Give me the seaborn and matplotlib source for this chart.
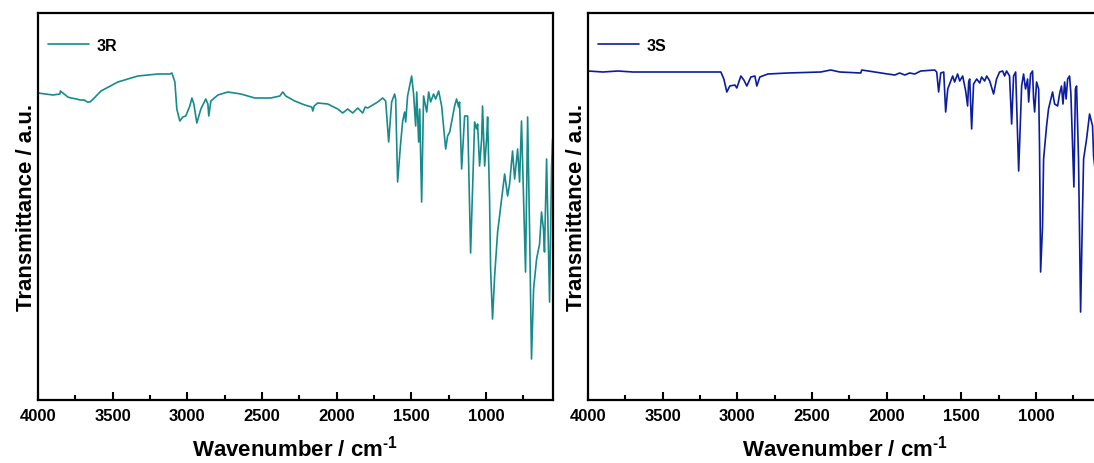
import matplotlib
matplotlib.use("Agg")
import matplotlib.pyplot as plt
from matplotlib.ticker import MultipleLocator
import seaborn as sns
import pandas as pd

# ---------------- data (wavenumber in cm-1, transmittance in a.u.) ----------------
R_WN = [4000, 3950, 3900, 3853, 3850, 3800, 3779, 3740, 3719, 3690,
        3670, 3652, 3630, 3578, 3465, 3331, 3197, 3117, 3103, 3083,
        3070, 3050, 3030, 3010, 2983, 2969, 2956, 2936, 2909, 2876,
        2862, 2856, 2842, 2795, 2728, 2641, 2548, 2441, 2380, 2360,
        2340, 2280, 2213, 2166, 2159, 2150, 2126, 2059, 1992, 1959,
        1925, 1892, 1858, 1825, 1808, 1791, 1758, 1724, 1691, 1671,
        1651, 1631, 1611, 1604, 1591, 1570, 1557, 1544, 1537, 1524,
        1497, 1484, 1470, 1463, 1450, 1443, 1430, 1417, 1396, 1383,
        1370, 1350, 1336, 1316, 1296, 1269, 1256, 1242, 1209, 1196,
        1182, 1176, 1162, 1142, 1122, 1102, 1089, 1075, 1062, 1055,
        1042, 1028, 1022, 1008, 995, 988, 975, 968, 955, 941,
        921, 894, 874, 854, 841, 821, 807, 787, 774, 761,
        747, 734, 720, 707, 694, 680, 660, 640, 627, 614,
        607, 593, 580, 573, 560, 553]
R_T = [307, 306, 305, 306, 309, 303, 302, 301, 300, 300,
       298, 298, 301, 309, 318, 324, 326, 326, 327, 318,
       291, 279, 283, 284, 294, 302, 296, 277, 291, 301,
       296, 284, 299, 305, 308, 306, 302, 302, 304, 308,
       304, 299, 295, 293, 289, 294, 297, 296, 291, 287,
       291, 287, 292, 287, 293, 292, 295, 298, 302, 299,
       258, 298, 306, 301, 218, 258, 279, 288, 278, 304,
       324, 306, 274, 308, 258, 291, 198, 304, 288, 308,
       298, 306, 301, 309, 294, 251, 264, 268, 294, 301,
       293, 298, 231, 284, 284, 147, 211, 278, 271, 276,
       234, 261, 294, 234, 261, 283, 201, 131, 81, 124,
       168, 201, 226, 204, 216, 249, 221, 251, 218, 279,
       201, 128, 283, 171, 41, 111, 141, 156, 188, 171,
       148, 241, 151, 98, 231, 261]

S_WN = [4000, 3900, 3800, 3700, 3600, 3500, 3400, 3300, 3200, 3110,
        3090, 3070, 3050, 3016, 3003, 2976, 2956, 2936, 2909, 2882,
        2869, 2849, 2795, 2661, 2441, 2374, 2313, 2173, 2166, 2079,
        1992, 1945, 1912, 1878, 1845, 1811, 1771, 1678, 1664, 1651,
        1637, 1617, 1604, 1590, 1570, 1557, 1544, 1524, 1510, 1490,
        1470, 1457, 1450, 1443, 1430, 1417, 1396, 1376, 1363, 1343,
        1329, 1309, 1283, 1263, 1243, 1222, 1209, 1196, 1176, 1162,
        1149, 1135, 1115, 1095, 1082, 1069, 1055, 1048, 1035, 1022,
        1015, 1008, 995, 981, 975, 968, 955, 948, 928, 915,
        888, 874, 854, 841, 828, 818, 807, 797, 787, 774,
        765, 745, 735, 727, 714, 700, 687, 680, 660, 640,
        620, 613, 600]
S_T = [329, 328, 329, 328, 328, 328, 328, 328, 328, 328,
       321, 308, 314, 315, 312, 324, 320, 314, 323, 324,
       314, 323, 326, 327, 328, 330, 328, 327, 330, 328,
       326, 325, 327, 325, 327, 326, 329, 330, 328, 308,
       327, 328, 288, 311, 319, 324, 318, 326, 319, 324,
       309, 294, 318, 321, 271, 316, 321, 317, 323, 319,
       324, 319, 306, 321, 328, 329, 324, 329, 324, 276,
       324, 328, 229, 314, 326, 311, 321, 298, 326, 329,
       301, 288, 318, 311, 251, 128, 174, 241, 274, 291,
       308, 296, 294, 306, 314, 296, 318, 301, 321, 324,
       306, 213, 311, 314, 241, 88, 191, 241, 261, 286,
       274, 244, 226]

SERIES = [("3R", R_WN, R_T, "#178B8B"), ("3S", S_WN, S_T, "#0B1CA0")]
XLABEL = "Wavenumber / cm$^{\\text{-1}}$"
YLABEL = "Transmittance / a.u."

# ---------------- style ----------------
sns.set_theme(style="ticks")
plt.rcParams["font.family"] = ["Liberation Sans", "DejaVu Sans"]
plt.rcParams["font.weight"] = "bold"
plt.rcParams["axes.labelweight"] = "bold"
plt.rcParams["text.color"] = "black"
plt.rcParams["axes.labelcolor"] = "black"
plt.rcParams["xtick.color"] = "black"
plt.rcParams["mathtext.fontset"] = "custom"
plt.rcParams["mathtext.rm"] = "Liberation Sans:bold"
plt.rcParams["mathtext.bf"] = "Liberation Sans:bold"
plt.rcParams["mathtext.it"] = "Liberation Sans:bold"

W, H = 1094, 464
fig = plt.figure(figsize=(W / 100, H / 100), dpi=100)

lefts = [38, 588]
for (name, wn, t, col), left in zip(SERIES, lefts):
    ax = fig.add_axes([left / W, (H - 401) / H, 515 / W, 387 / H])
    df = pd.DataFrame({"wn": wn, "t": t})
    sns.lineplot(data=df, x="wn", y="t", ax=ax, color=col, linewidth=1.2,
                 sort=False, estimator=None, label=name)
    ax.set_xlim(4000, 550)
    ax.set_ylim(0, 387)
    ax.set_yticks([])
    ax.xaxis.set_major_locator(MultipleLocator(500))
    ax.xaxis.set_minor_locator(MultipleLocator(250))
    ax.tick_params(axis="x", which="major", direction="in", length=6, width=1.5,
                   labelsize=12, pad=6, color="black", labelcolor="black")
    ax.tick_params(axis="x", which="minor", direction="in", length=3.5, width=1.5,
                   color="black")
    for lbl in ax.get_xticklabels():
        lbl.set_fontweight("bold")
    for sp in ax.spines.values():
        sp.set_visible(True)
        sp.set_linewidth(1.6)
        sp.set_color("black")
    ax.set_xlabel(XLABEL, fontsize=16, fontweight="bold", labelpad=8, color="black")
    ax.set_ylabel(YLABEL, fontsize=16, fontweight="bold", labelpad=1, color="black")
    leg = ax.legend(loc="center left", bbox_to_anchor=(0.019, 0.917), frameon=False,
                    borderpad=0, borderaxespad=0, handlelength=2.6, handletextpad=0.45,
                    prop={"weight": "bold", "size": 11.5})
    for txt in leg.get_texts():
        txt.set_color("black")

fig.savefig("out.png", dpi=100)
